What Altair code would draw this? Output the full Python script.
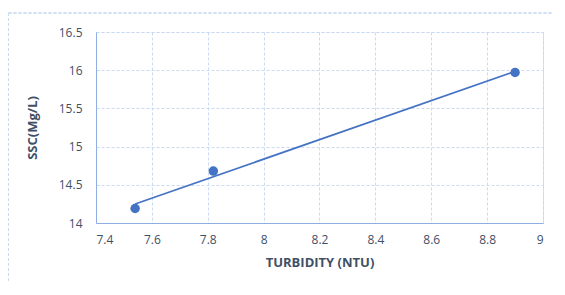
import altair as alt
import pandas as pd

turbidity = [7.54, 7.82, 8.90]
ssc = [14.19, 14.68, 15.97]
x_ticks = [7.4, 7.6, 7.8, 8.0, 8.2, 8.4, 8.6, 8.8, 9.0]
y_ticks = [14, 14.5, 15, 15.5, 16, 16.5]

df = pd.DataFrame({"t": turbidity, "s": ssc})

BLUE = "#4472c4"
TXT = "#3f4f66"
GRID = "#c9dbf2"
FONT = "Open Sans"

xs = alt.Scale(domain=[7.4, 9.0], nice=False, zero=False)
ys = alt.Scale(domain=[14, 16.5], nice=False, zero=False)

xenc = alt.X("t:Q", scale=xs, axis=alt.Axis(
    title="TURBIDITY (NTU)", values=x_ticks, labelExpr="format(datum.value, '.1~f')",
    grid=True, gridColor=GRID, gridDash=[3, 2], ticks=False,
    domainColor="#8eaee3", labelPadding=11, titlePadding=11))
yenc = alt.Y("s:Q", scale=ys, axis=alt.Axis(
    title="SSC(Mg/L)", values=y_ticks, labelExpr="format(datum.value, '.1~f')",
    grid=True, gridColor=GRID, gridDash=[3, 2], ticks=False,
    domainColor="#8eaee3", labelPadding=14, titlePadding=19))

base = alt.Chart(df)
pts = base.mark_circle(size=90, color=BLUE, opacity=1).encode(x=xenc, y=yenc)
trend = base.transform_regression("t", "s").mark_line(color=BLUE, strokeWidth=1.7).encode(x=xenc, y=yenc)

frame_top = alt.Chart(df).mark_rule(color=GRID, strokeDash=[3, 2], strokeWidth=1).encode(
    x=alt.value(-87.5), x2=alt.value(470), y=alt.value(-19))
frame_left = alt.Chart(df).mark_rule(color=GRID, strokeDash=[3, 2], strokeWidth=1).encode(
    x=alt.value(-87.5), y=alt.value(-19), y2=alt.value(280))

chart = alt.layer(frame_top, frame_left, trend, pts).properties(
    width=447, height=191,
    autosize=alt.AutoSizeParams(type="none"),
    padding={"left": 88, "top": 24, "right": 10, "bottom": 60},
    background="white",
).configure_view(
    stroke=GRID, strokeDash=[3, 2], strokeWidth=1
).configure_axis(
    labelFont=FONT, titleFont=FONT, labelColor=TXT, titleColor=TXT,
    labelFontSize=12, titleFontSize=13, titleFontWeight="bold"
)

chart.save("out.html", embed_options={"renderer": "svg", "actions": False})
